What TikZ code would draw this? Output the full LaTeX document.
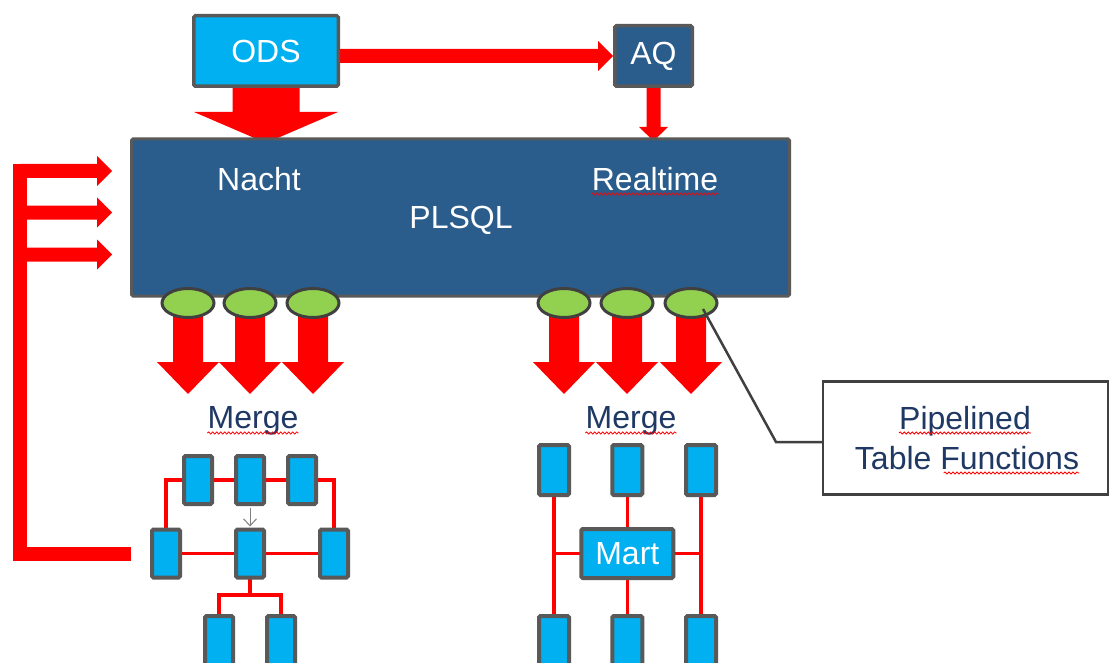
\documentclass[tikz,border=0pt]{standalone}
\usepackage{fontspec}
\setmainfont{Liberation Sans}
\usetikzlibrary{arrows.meta,shapes.geometric,backgrounds,calc,decorations.pathmorphing}
\definecolor{lblue}{HTML}{00B0F0}
\definecolor{dblue}{HTML}{2A5D8C}
\definecolor{bgray}{HTML}{595959}
\definecolor{egray}{HTML}{404040}
\definecolor{lgreen}{HTML}{92D050}
\definecolor{navy}{HTML}{1F3864}
\definecolor{bred}{HTML}{FF0000}
% block arrow pointing down: start, tip, shaft half, head half, head length
\newcommand\blkdown[5]{\fill[bred] ($(#1)+(-#3,0)$) -- ($(#2)+(-#3,-#5)$) -- ($(#2)+(-#4,-#5)$) -- (#2) -- ($(#2)+(#4,-#5)$) -- ($(#2)+(#3,-#5)$) -- ($(#1)+(#3,0)$) -- cycle;}
% block arrow pointing right
\newcommand\blkright[5]{\fill[bred] ($(#1)+(0,-#3)$) -- ($(#2)+(-#5,-#3)$) -- ($(#2)+(-#5,-#4)$) -- (#2) -- ($(#2)+(-#5,#4)$) -- ($(#2)+(-#5,#3)$) -- ($(#1)+(0,#3)$) -- cycle;}
\begin{document}
\begin{tikzpicture}[x=1pt,y=-1pt,
  bigfont/.style={font=\fontsize{32}{38}\selectfont},
  box/.style={draw=bgray, line width=3.5pt, rounded corners=1.5pt, inner sep=0pt, bigfont, text=white},
  lbox/.style={box, fill=lblue},
  dbox/.style={box, fill=dblue},
  tbox/.style={draw=bgray, line width=4pt, rounded corners=1.5pt, fill=lblue, inner sep=0pt, minimum width=28pt, minimum height=48pt},
  rbox/.style={tbox, minimum width=30pt, minimum height=50pt},
  pipe/.style={draw=egray, line width=3pt, fill=lgreen, ellipse, inner sep=0pt, minimum width=52pt, minimum height=29pt},
  wire/.style={draw=bred, line width=3.5pt},
  lbl/.style={bigfont, text=navy, anchor=base, inner sep=0pt},
  wlbl/.style={bigfont, text=white, anchor=base, inner sep=0pt},
  squig/.style={draw=bred, line width=0.8pt, decorate, decoration={snake, segment length=4pt, amplitude=1.1pt}},
]
\useasboundingbox (0,0) rectangle (1110,663);
\clip (0,0) rectangle (1110,663);

% top boxes
\node[lbox, minimum width=144.5pt, minimum height=70.5pt] (ods) at (266,51) {ODS};
\node[dbox, minimum width=77.5pt, minimum height=60.5pt] (aq) at (653.5,56) {AQ};
% main box
\node[dbox, line width=3pt, minimum width=658pt, minimum height=157pt] (pls) at (460.5,217.5) {};
\node[wlbl] (nacht) at (259,190) {Nacht};
\node[wlbl] (realtime) at (655,190) {Realtime};
\node[wlbl] (plsql) at (461,228) {PLSQL};
\draw[squig] ([yshift=-4pt]realtime.base west) -- ([yshift=-4pt]realtime.base east);

% pipelined functions
\node[pipe] (e1) at (188,303) {};
\node[pipe] (e2) at (250,303) {};
\node[pipe] (e3) at (313,303) {};
\node[pipe] (e4) at (564,303) {};
\node[pipe] (e5) at (627,303) {};
\node[pipe] (e6) at (691,303) {};

% merge labels
\node[lbl] (merge1) at (253,428) {Merge};
\node[lbl] (merge2) at (631,428) {Merge};
\draw[squig] ([yshift=-5pt]merge1.base west) -- ([yshift=-5pt]merge1.base east);
\draw[squig] ([yshift=-5pt]merge2.base west) -- ([yshift=-5pt]merge2.base east);

% left tree
\node[tbox] (b1) at (198,480) {};
\node[tbox] (b2) at (250,480) {};
\node[tbox] (b3) at (302,480) {};
\node[tbox] (b4) at (166,553.5) {};
\node[tbox] (b5) at (250,553.5) {};
\node[tbox] (b6) at (334,553.5) {};
\node[tbox, anchor=north, minimum height=60pt] (b7) at (219,614) {};
\node[tbox, anchor=north, minimum height=60pt] (b8) at (281,614) {};
\draw[draw=gray, line width=1pt, shorten <=2pt, shorten >=1pt, -{Straight Barb[length=7pt,width=13pt]}] (b2.south) -- (b5.north);

% right tree
\node[rbox] (a1) at (554,470) {};
\node[rbox] (a2) at (627.3,470) {};
\node[rbox] (a3) at (701,470) {};
\node[rbox, anchor=north, minimum height=60pt] (c1) at (554,614) {};
\node[rbox, anchor=north, minimum height=60pt] (c2) at (627.3,614) {};
\node[rbox, anchor=north, minimum height=60pt] (c3) at (701,614) {};
\node[lbox, line width=4pt, minimum width=92pt, minimum height=49pt] (mart) at (627.3,553.5) {Mart};

% callout
\node[draw=egray, line width=2.5pt, fill=white, minimum width=285pt, minimum height=113pt, inner sep=0pt] (callout) at (965.5,438) {};
\node[lbl] (pl1) at (965,429) {Pipelined};
\node[lbl] (pl2) at (967,469) {Table Functions};
\draw[squig] ([yshift=-4pt]pl1.base west) -- ([yshift=-4pt]pl1.base east);
\draw[squig] ([yshift=-4pt,xshift=89pt]pl2.base west) -- ([yshift=-4pt]pl2.base east);
\coordinate (cstart) at ($(e6.center)+(12,6)$);
\coordinate (cbend) at (776,442);
\draw[egray, line width=2.5pt] (cstart) -- (cbend) -- (callout.west |- cbend);

% coordinates for arrows
\coordinate (odsout) at (ods.east |- aq.west);
\coordinate (odstip) at (ods.south |- 0,143);
\coordinate (aqtip) at (aq.south |- 0,141);
\coordinate (k1) at (19.5,171);
\coordinate (k2) at (19.5,212.5);
\coordinate (k3) at (19.5,254.5);
\coordinate (kb) at (19.5,553.5);
\coordinate (kend) at ([xshift=-26pt]b4.west);
\coordinate (t1) at (112,171);
\coordinate (t2) at (112,212.5);
\coordinate (t3) at (112,254.5);
\coordinate (j5) at (b5.center |- 0,595);

\begin{scope}[on background layer]
  \fill[white] (0,0) rectangle (1110,663);
  \blkright{odsout}{aq.west}{7}{15}{15}
  \blkdown{ods.south}{odstip}{33.5}{72}{31}
  \blkdown{aq.south}{aqtip}{7}{14.5}{14}
  \foreach \i in {1,...,6} {
    \coordinate (tip\i) at (e\i.center |- 0,394);
    \blkdown{e\i.center}{tip\i}{15}{31}{32}
  }
  % feedback bracket
  \draw[bred, line width=14pt, line cap=rect] (k1) -- (kb) -- (kend);
  \blkright{k1}{t1}{7}{15}{15}
  \blkright{k2}{t2}{7}{15}{15}
  \blkright{k3}{t3}{7}{15}{15}
  % left tree wires
  \draw[wire] (b1.center) -- (b2.center) -- (b3.center);
  \draw[wire] (b1.center) -| (b4.center);
  \draw[wire] (b3.center) -| (b6.center);
  \draw[wire] (b4.center) -- (b5.center) -- (b6.center);
  \draw[wire] (b5.center) -- (j5);
  \draw[wire] (b7.center) |- (j5) -| (b8.center);
  % right tree wires
  \draw[wire] (a1.center) -- (c1.center);
  \draw[wire] (a3.center) -- (c3.center);
  \draw[wire] (a2.center) -- (mart.center) -- (c2.center);
  \draw[wire] (mart.center -| a1) -- (mart.center -| a3);
\end{scope}
\end{tikzpicture}
\end{document}
